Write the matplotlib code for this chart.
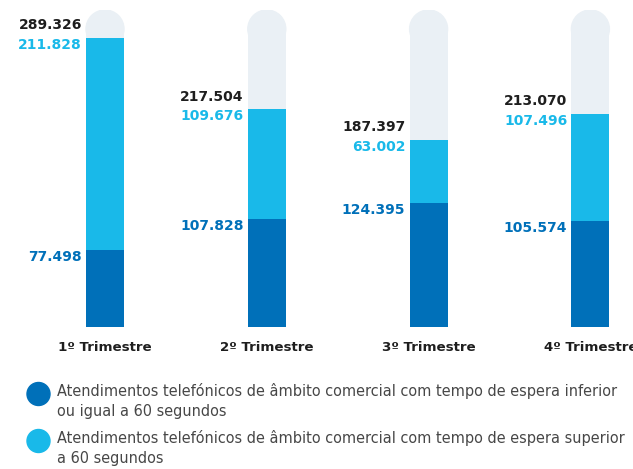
import matplotlib.pyplot as plt
from matplotlib.patches import Ellipse, Circle

# data
quarters = ["1º Trimestre", "2º Trimestre", "3º Trimestre", "4º Trimestre"]
ate_60 = [77498, 107828, 124395, 105574]
mais_60 = [211828, 109676, 63002, 107496]
totals = [a + b for a, b in zip(ate_60, mais_60)]
legend_labels = [
    "Atendimentos telefónicos de âmbito comercial com tempo de espera inferior\nou igual a 60 segundos",
    "Atendimentos telefónicos de âmbito comercial com tempo de espera superior\na 60 segundos",
]

DARK = "#0070b9"
LIGHT = "#19b9e9"
GREY = "#eaf0f5"
TXT = "#1e1e1e"
scale_max = 317000

plt.rcParams["font.family"] = ["DejaVu Sans"]

def fmt(v):
    return f"{v:,}".replace(",", ".")

W, H = 633, 469
fig = plt.figure(figsize=(W / 100, H / 100), dpi=100)
ax = fig.add_axes([0, (H - 327) / H, 1, (327 - 10) / H])
xs = list(range(len(quarters)))
step = 161.8
ax.set_xlim(-105 / step, (W - 105) / step)
ax.set_ylim(0, scale_max)
ax.axis("off")

bw = 38 / step
r = 19 * scale_max / 317  # 19 px radius in data units
for x in xs:
    ax.bar(x, scale_max - r, width=bw, color=GREY, zorder=1)
    ax.add_patch(Ellipse((x, scale_max - r), bw, 2 * r, color=GREY, zorder=1))

ax.bar(xs, ate_60, width=bw, color=DARK, zorder=2)
ax.bar(xs, mais_60, bottom=ate_60, width=bw, color=LIGHT, zorder=2)

for x, a, b, t, q in zip(xs, ate_60, mais_60, totals, quarters):
    left = x - bw / 2
    ax.annotate(fmt(t), (left, t), xytext=(-3, 4), textcoords="offset points",
                ha="right", va="bottom", fontsize=10, fontweight="bold", color=TXT)
    ax.annotate(fmt(b), (left, t), xytext=(-3, 0), textcoords="offset points",
                ha="right", va="top", fontsize=10, fontweight="bold", color=LIGHT)
    ax.annotate(fmt(a), (left, a), xytext=(-3, 0), textcoords="offset points",
                ha="right", va="top", fontsize=10, fontweight="bold", color=DARK)
    ax.annotate(q, (x, 0), xytext=(0, -14.5), textcoords="offset points",
                ha="center", va="center", fontsize=9.6, fontweight="bold", color=TXT,
                annotation_clip=False)

# legend in pixel coordinates
lax = fig.add_axes([0, 0, 1, 1], zorder=-1)
lax.set_xlim(0, W)
lax.set_ylim(H, 0)
lax.axis("off")
for yc, col, lab in zip([394, 441], [DARK, LIGHT], legend_labels):
    lax.add_patch(Circle((38.5, yc), 11.5, color=col))
    lax.text(57, yc - 11, lab, ha="left", va="top", fontsize=10.45, color="#474747",
             linespacing=1.38)

fig.savefig("out.png", dpi=100)
